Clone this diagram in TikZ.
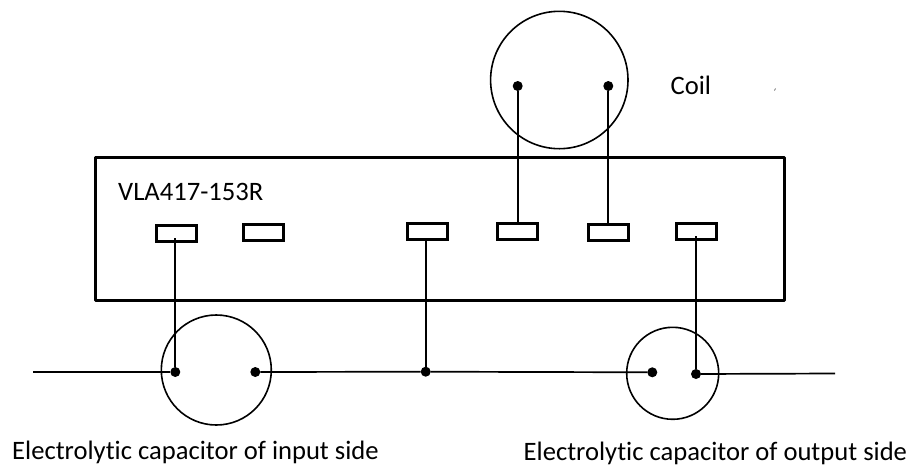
\documentclass[tikz,border=0pt]{standalone}
\usepackage{fontspec}
\setmainfont[Ligatures=NoCommon]{Carlito}
\tikzset{
  housing/.style={draw=black,line width=3pt,line join=round,fill=none,inner sep=0pt,outer sep=0pt},
  padbox/.style={draw=black,line width=2.8pt,fill=white,inner sep=0pt,outer sep=0pt,minimum width=40pt,minimum height=16pt},
  disc/.style={circle,draw=black,line width=1.6pt,fill=none,inner sep=0pt,outer sep=0pt},
  pin/.style={circle,fill=black,inner sep=0pt,outer sep=0pt,minimum size=10pt},
  wire/.style={draw=black,line width=1.7pt},
  lab/.style={font=\fontsize{26.6}{30}\selectfont,text=black,inner sep=0pt,anchor=base west}
}
\begin{document}
\begin{tikzpicture}[x=1pt,y=-1pt]
\useasboundingbox (0,0) rectangle (914,467);
\fill[white] (0,0) rectangle (914,467);
% housing
\node[housing,minimum width=689pt,minimum height=143pt] (box) at (440.2,229.3) {};
% terminals
\node[padbox] (p1) at (176.8,233.2) {};
\node[padbox] (p2) at (263.6,232.5) {};
\node[padbox] (p3) at (427.5,231.3) {};
\node[padbox] (p4) at (517.5,231.3) {};
\node[padbox] (p5) at (608.8,232.3) {};
\node[padbox] (p6) at (696.5,231.2) {};
% capacitors and coil
\node[disc,minimum size=137.4pt] (coil) at (559.3,80) {};
\node[disc,minimum size=110pt] (cin) at (216.3,370) {};
\node[disc,minimum size=92pt] (cout) at (672.7,373.3) {};
% pins
\node[pin] (c1) at (517.7,86) {};
\node[pin] (c2) at (608.3,86) {};
\node[pin] (a) at (175.3,372) {};
\node[pin] (b) at (255.3,372) {};
\node[pin] (j) at (425.7,371.7) {};
\node[pin] (d) at (652.3,372.3) {};
\node[pin] (e) at (696,374) {};
% free ends
\coordinate (inl) at (33,372);
\coordinate (outr) at (835,373.5);
% wires
\draw[wire] (inl) -- (a);
\draw[wire] (b) -- (j) -- (d);
\draw[wire] (e) -- (outr);
\draw[wire] (a) -- ([yshift=3pt]a |- p1.south);
\draw[wire] (j) -- (j |- p3.south);
\draw[wire] (e) -- ([yshift=3pt]e |- p6.south);
\draw[wire] (c1) -- (c1 |- p4.north);
\draw[wire] (c2) -- (c2 |- p5.north);
% labels
\node[lab] (tvla) at (118,200) {VLA417-153R};
\node[lab] (tcoil) at (670.5,94) {Coil};
\node[lab] (tin) at (12,459.5) {Electrolytic capacitor of input side};
\node[lab] (tout) at (523.5,460) {Electrolytic capacitor of output side};
% stray mark
\draw[black!60,line width=0.7pt] (774.5,90.5) -- (775.5,88.5);
\end{tikzpicture}
\end{document}
